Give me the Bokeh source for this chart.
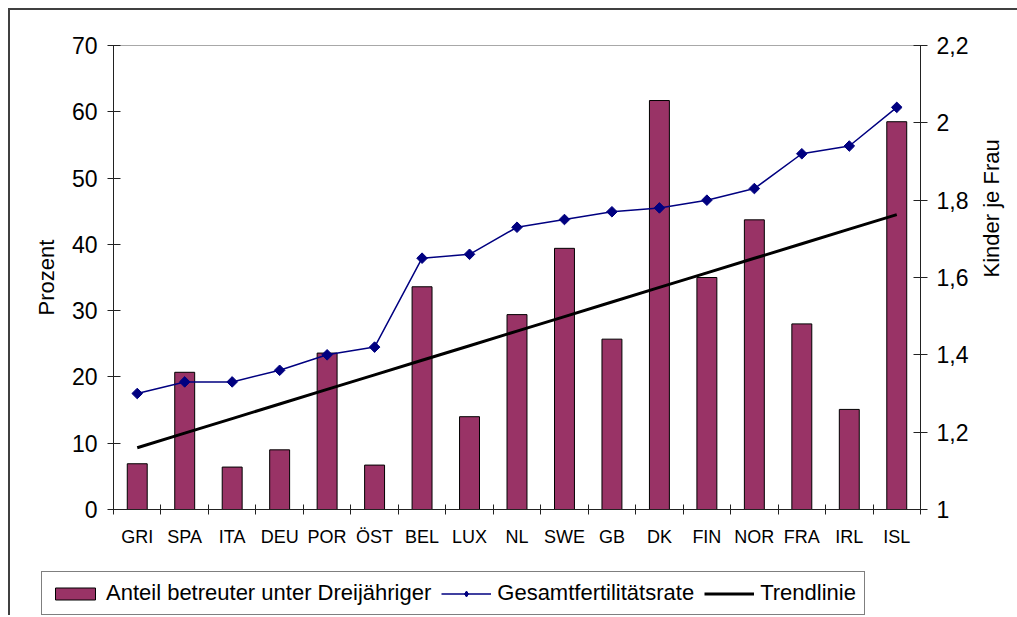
import math
import numpy as np
from bokeh.plotting import figure
from bokeh.layouts import column
from bokeh.models import (Range1d, LinearAxis, FixedTicker, CustomJSTickFormatter,
                          Legend, LegendItem)
from bokeh.embed import file_html
from bokeh.resources import INLINE

# ---- data ----
countries = ["GRI", "SPA", "ITA", "DEU", "POR", "ÖST", "BEL", "LUX", "NL",
             "SWE", "GB", "DK", "FIN", "NOR", "FRA", "IRL", "ISL"]
betreuung = [6.9, 20.7, 6.4, 9.0, 23.6, 6.7, 33.6, 14.0, 29.4,
             39.4, 25.7, 61.7, 35.0, 43.7, 28.0, 15.1, 58.5]
tfr = [1.30, 1.33, 1.33, 1.36, 1.40, 1.42, 1.65, 1.66, 1.73,
       1.75, 1.77, 1.78, 1.80, 1.83, 1.92, 1.94, 2.04]
left_ticks = [0, 10, 20, 30, 40, 50, 60, 70]
right_ticks = [1.0, 1.2, 1.4, 1.6, 1.8, 2.0, 2.2]
legend_labels = ["Anteil betreuter unter Dreijähriger", "Gesamtfertilitätsrate", "Trendlinie"]

FONT = "Liberation Sans"
AXC = "#222222"
BAR_COLOR = "#993366"
TFR_COLOR = "#000080"

idx = np.arange(len(countries))
xc = idx + 0.5
coef = np.polyfit(idx, betreuung, 1)
trend = np.polyval(coef, idx)

p = figure(output_backend="svg", toolbar_location=None,
           frame_width=805, frame_height=462,
           min_border_left=103, min_border_right=97,
           min_border_top=35, min_border_bottom=40,
           x_range=Range1d(0, len(countries)), y_range=Range1d(0, 70))
p.margin = (8, 0, 0, 8)
p.extra_y_ranges = {"tfr": Range1d(1.0, 2.2)}
p.grid.visible = False
p.outline_line_color = "#a8a8a8"
p.outline_line_width = 1
p.background_fill_color = "white"
p.border_fill_color = "white"
p.styles = {"border-top": "2px solid #404040", "border-left": "2px solid #404040"}

# x axis
xa = p.xaxis[0]
xa.ticker = FixedTicker(ticks=list(xc), minor_ticks=list(range(len(countries) + 1)))
xa.formatter = CustomJSTickFormatter(args=dict(labels=countries),
                                     code="return labels[Math.floor(tick)];")
xa.major_tick_line_color = None
xa.major_tick_in = 0
xa.major_tick_out = 0
xa.minor_tick_line_color = AXC
xa.minor_tick_in = 5
xa.minor_tick_out = 5
xa.axis_line_color = AXC
xa.major_label_standoff = 12
xa.major_label_text_font = FONT
xa.major_label_text_font_size = "18px"
xa.major_label_text_color = "black"

# left axis
ya = p.yaxis[0]
ya.ticker = FixedTicker(ticks=left_ticks)
ya.major_tick_in = 7
ya.major_tick_out = 6
ya.minor_tick_line_color = None
ya.axis_line_color = AXC
ya.major_tick_line_color = AXC
ya.major_label_standoff = 10
ya.major_label_text_font = FONT
ya.major_label_text_font_size = "23px"
ya.major_label_text_color = "black"
ya.axis_label = "Prozent"
ya.axis_label_text_font = FONT
ya.axis_label_text_font_size = "22px"
ya.axis_label_text_font_style = "normal"
ya.axis_label_text_color = "black"
ya.axis_label_standoff = 10

# right axis
ra = LinearAxis(y_range_name="tfr", ticker=FixedTicker(ticks=right_ticks),
                formatter=CustomJSTickFormatter(
                    code="return (Math.round(tick*10)/10).toString().replace('.', ',');"))
ra.major_tick_in = 7
ra.major_tick_out = 7
ra.minor_tick_line_color = None
ra.axis_line_color = AXC
ra.major_tick_line_color = AXC
ra.major_label_standoff = 9
ra.major_label_text_font = FONT
ra.major_label_text_font_size = "23px"
ra.major_label_text_color = "black"
ra.axis_label = "Kinder je Frau"
ra.axis_label_text_font = FONT
ra.axis_label_text_font_size = "22px"
ra.axis_label_text_font_style = "normal"
ra.axis_label_text_color = "black"
ra.axis_label_standoff = 20
if "axis_label_orientation" in LinearAxis.properties():
    ra.axis_label_orientation = math.pi / 2
p.add_layout(ra, "right")

# glyphs
p.vbar(x=xc, top=betreuung, bottom=0, width=0.42,
       fill_color=BAR_COLOR, line_color="black", line_width=1)
p.line(xc, trend, line_color="black", line_width=3)
p.line(xc, tfr, y_range_name="tfr", line_color=TFR_COLOR, line_width=1.5)
p.scatter(xc, tfr, y_range_name="tfr", marker="square", angle=math.pi / 4,
          size=7.5, fill_color=TFR_COLOR, line_color=TFR_COLOR)

# ---- legend strip below the chart (same series, view placed away from the data) ----
lg = figure(output_backend="svg", toolbar_location=None,
            x_axis_type=None, y_axis_type=None,
            frame_width=900, frame_height=44,
            min_border_left=92, min_border_right=3,
            min_border_top=24, min_border_bottom=0,
            x_range=Range1d(-3, -2), y_range=Range1d(-3, -2))
lg.margin = (0, 0, 0, 8)
lg.styles = {"border-left": "2px solid #404040"}
lg.outline_line_color = None
lg.background_fill_color = "white"
lg.border_fill_color = "white"

r_bar = lg.vbar(x=xc, top=betreuung, bottom=0, width=0.42,
                fill_color=BAR_COLOR, line_color="black", line_width=1)
r_tfr_line = lg.line(xc, tfr, line_color=TFR_COLOR, line_width=1.5)
r_tfr_pts = lg.scatter(xc, tfr, marker="diamond", size=12,
                       fill_color=TFR_COLOR, line_color=TFR_COLOR)
r_trend = lg.line(xc, trend, line_color="black", line_width=3)

legend = Legend(items=[
    LegendItem(label=legend_labels[0], renderers=[r_bar]),
    LegendItem(label=legend_labels[1], renderers=[r_tfr_line, r_tfr_pts]),
    LegendItem(label=legend_labels[2], renderers=[r_trend]),
], orientation="horizontal", location="top_left",
    border_line_color="black", border_line_width=1,
    background_fill_color="white", background_fill_alpha=1,
    label_text_font=FONT, label_text_font_size="22px", label_text_color="black",
    glyph_width=50, glyph_height=15, label_standoff=6, spacing=10,
    padding=8, margin=0)
lg.add_layout(legend, "center")

layout = column(p, lg)

open("out.html", "w").write(file_html(layout, INLINE))
